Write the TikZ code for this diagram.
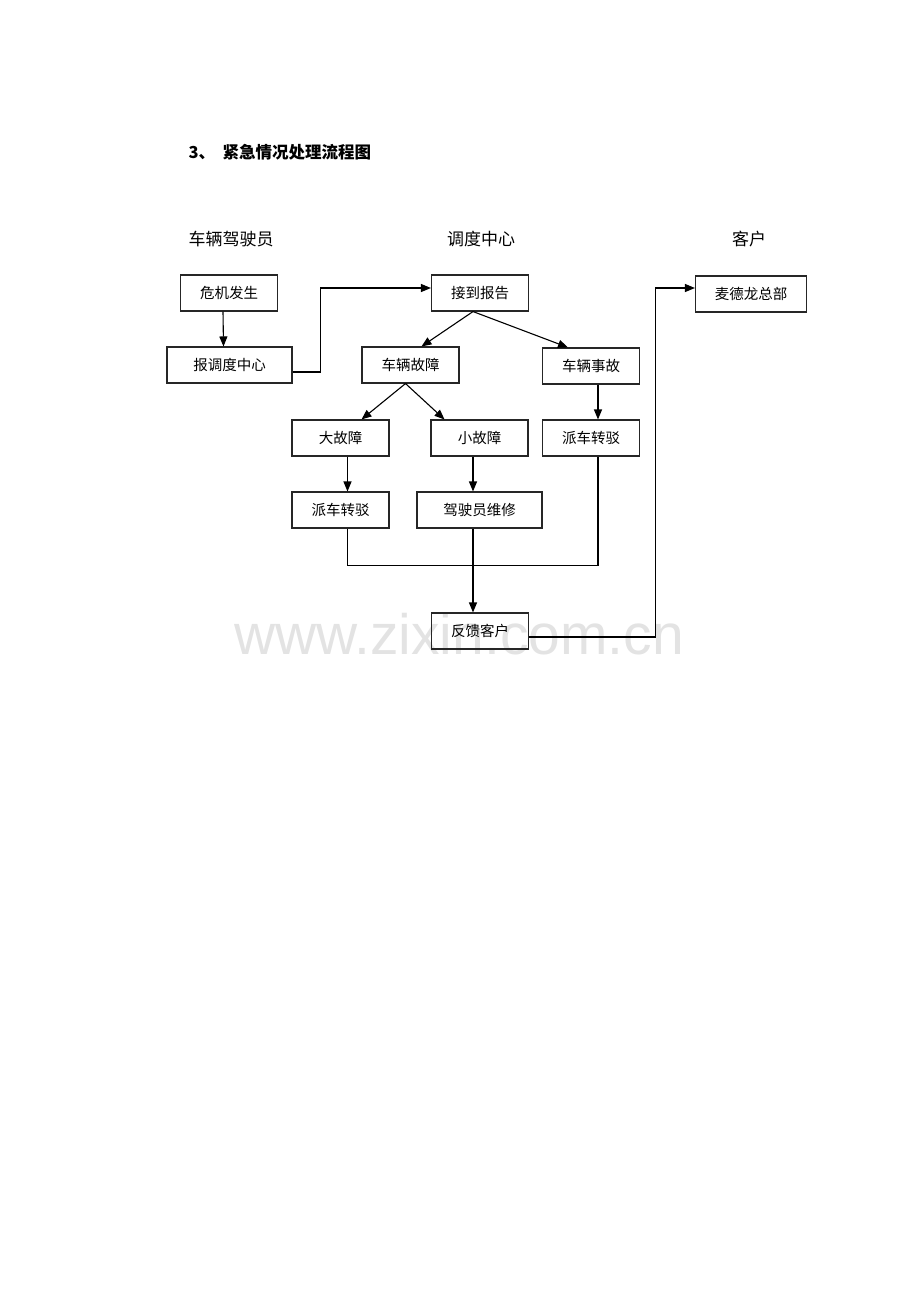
\documentclass[tikz,border=0pt]{standalone}
\usepackage{fontspec}
\setmainfont{Liberation Sans}
\newfontfamily\cjk{Noto Sans CJK SC}
\usetikzlibrary{arrows.meta}

\tikzset{
  box/.style={draw=black!85, line width=1.1pt, minimum height=36pt, minimum width=97pt,
    inner sep=0pt, font=\cjk\fontsize{14.5}{16}\selectfont},
  head/.style={font=\cjk\fontsize{17}{19}\selectfont},
  link/.style={line width=1.1pt},
}

\begin{document}
\begin{tikzpicture}[x=1pt, y=-1pt, >={Triangle[length=10pt,width=8pt]}]
                \useasboundingbox (0, 0) rectangle (920, 1302);

                \node[text=black!11, font=\fontsize{57}{57}\selectfont] (mark) at (459, 634) {www.zixin.com.cn};

                \node[anchor=west, font=\cjk\bfseries\fontsize{16.5}{18}\selectfont] (title) at (185, 152) {3、\ \ 紧急情况处理流程图};

                \node[head] (H1) at (231, 239) {车辆驾驶员};
                \node[head] (H2) at (481, 239) {调度中心};
                \node[head] (H3) at (749, 239) {客户};

                \node[box] (D1) at (229, 293) {危机发生};
                \node[box, minimum width=125pt] (D2) at (229.5, 365) {报调度中心};

                \node[box] (C1) at (480, 293) {接到报告};
                \node[box] (C2) at (410.5, 365) {车辆故障};
                \node[box] (C3) at (591, 366) {车辆事故};
                \node[box] (C4) at (340.5, 438) {大故障};
                \node[box] (C5) at (479.5, 438) {小故障};
                \node[box] (C6) at (591, 438) {派车转驳};
                \node[box] (C7) at (340.5, 510) {派车转驳};
                \node[box, minimum width=125pt] (C8) at (479.5, 510) {驾驶员维修};
                \node[box] (C9) at (480, 631) {反馈客户};

                \node[box, minimum width=111pt] (K1) at (751, 294) {麦德龙总部};

                \draw[link, ->] ([xshift=-6pt]D1.south) -- ([xshift=-6pt]D2.north);
                \draw[link, ->] ([yshift=-7pt]D2.east) -- ++(28, 0) |- ([yshift=5pt]C1.west);

                \draw[link, ->] ([xshift=-7pt]C1.south) -- ([xshift=11pt]C2.north);
                \draw[link, ->] ([xshift=-7pt]C1.south) -- ([xshift=-23pt]C3.north);

                \draw[link, ->] ([xshift=-5pt]C2.south) -- ([xshift=21pt]C4.north);
                \draw[link, ->] ([xshift=-5pt]C2.south) -- ([xshift=-35pt]C5.north);

                \draw[link, ->] ([xshift=7pt]C3.south) -- ([xshift=7pt]C6.north);
                \draw[link, ->] ([xshift=7pt]C4.south) -- ([xshift=7pt]C7.north);
                \draw[link, ->] ([xshift=-6.5pt]C5.south) -- ([xshift=-6.5pt]C8.north);

                \draw[link] ([xshift=7pt]C7.south) -- ++(0, 37) -| ([xshift=7pt]C6.south);
                \draw[link, ->] ([xshift=-6.5pt]C8.south) -- ([xshift=-7pt]C9.north);

                \draw[link, ->] ([yshift=-6pt]C9.east) -- ++(126, 0) |- ([yshift=6pt]K1.west);
            \end{tikzpicture}
\end{document}
